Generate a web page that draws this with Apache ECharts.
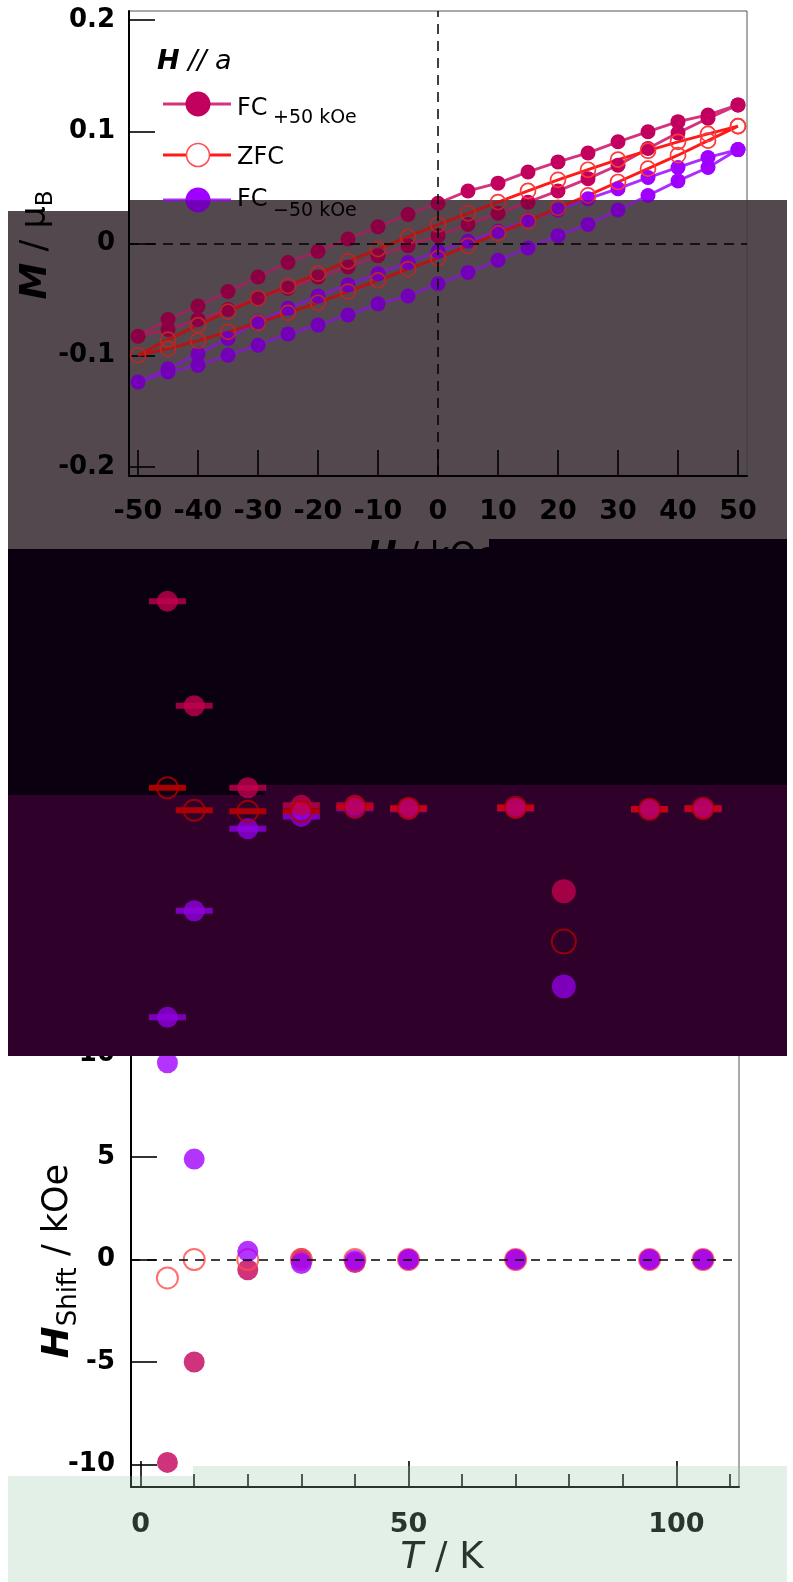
<!DOCTYPE html>
<html><head><meta charset="utf-8">
<script src="https://cdn.jsdelivr.net/npm/echarts@6/dist/echarts.min.js"></script>
<style>html,body{margin:0;padding:0;background:#fff;}#c{width:793px;height:1582px;}</style>
</head><body><div id="c"></div>
<script>
// ---------- Top panel: M (muB) vs H (kOe), three hysteresis loops ----------
const fieldKOe = [-50,-45,-40,-35,-30,-25,-20,-15,-10,-5,0,5,10,15,20,25,30,35,40,45,50];
const fcPlusUpper  = [-0.083,-0.068,-0.056,-0.043,-0.030,-0.017,-0.007,0.004,0.015,0.026,0.036,0.047,0.054,0.064,0.073,0.081,0.091,0.100,0.109,0.115,0.124];
const fcPlusLower  = [-0.083,-0.077,-0.068,-0.059,-0.049,-0.040,-0.030,-0.021,-0.011,-0.002,0.007,0.017,0.027,0.037,0.047,0.058,0.070,0.085,0.099,0.112,0.124];
const zfcUpper     = [-0.100,-0.086,-0.073,-0.061,-0.049,-0.038,-0.027,-0.016,-0.005,0.006,0.017,0.027,0.037,0.047,0.057,0.066,0.075,0.083,0.091,0.098,0.105];
const zfcLower     = [-0.100,-0.094,-0.087,-0.079,-0.071,-0.062,-0.053,-0.043,-0.033,-0.023,-0.013,-0.002,0.009,0.020,0.032,0.043,0.055,0.067,0.079,0.092,0.105];
const fcMinusUpper = [-0.124,-0.112,-0.099,-0.085,-0.070,-0.058,-0.047,-0.037,-0.027,-0.017,-0.007,0.002,0.011,0.021,0.030,0.040,0.049,0.059,0.068,0.077,0.084];
const fcMinusLower = [-0.124,-0.115,-0.109,-0.100,-0.091,-0.081,-0.073,-0.064,-0.054,-0.047,-0.036,-0.026,-0.015,-0.004,0.007,0.017,0.030,0.043,0.056,0.068,0.084];
const topXTicks = [-50,-40,-30,-20,-10,0,10,20,30,40,50];
const topYTicks = [-0.2,-0.1,0,0.1,0.2];

// ---------- Middle panel (mostly hidden) ----------
const tempK = [5,10,20,30,40,50,70,95,105];
const midFCplus  = [10.1,5.0,1.0,0.15,0.15,0.0,0.0,-0.05,-0.05];
const midZFC     = [1.0,-0.1,-0.15,-0.15,0.05,0.0,0.05,-0.05,0.0];
const midFCminus = [-10.2,-5.0,-1.0,-0.4,0.0,-0.05,0.0,-0.05,0.0];
const midExtraT = [79];
const midExtraFCplus = [-4.05];
const midExtraZFC = [-6.5];
const midExtraFCminus = [-8.7];

// ---------- Bottom panel: H_shift (kOe) vs T (K) ----------
const shiftFCplus  = [-9.9,-5.0,-0.5,0.05,-0.15,0,0,0,0];
const shiftZFC     = [-0.9,0,0,0,0,0,0,0,0];
const shiftFCminus = [9.6,4.9,0.4,-0.2,-0.05,0,0,0,0];
const botXTicks = [0,50,100];
const botXMinor = [10,20,30,40,60,70,80,90,110];
const botYTicks = [-10,-5,0,5,10];

const FONT = 'DejaVu Sans';
const C_PLUS = '#c2005e', C_PLUS_LINE = '#d6337f';
const C_ZFC = '#ff3838', C_ZFC_LINE = '#ff1a1a';
const C_MINUS = '#a000ff', C_MINUS_LINE = '#ad2cff';

function loopData(up, low) {
  const d = [];
  for (let i = fieldKOe.length - 1; i >= 0; i--) d.push([fieldKOe[i], up[i]]);
  for (let i = 1; i < fieldKOe.length; i++) d.push([fieldKOe[i], low[i]]);
  return d;
}
function pairs(xs, ys) { return xs.map((x, i) => [x, ys[i]]); }

function valueAxis(o) {
  return Object.assign({
    type: 'value', splitLine: {show: false},
    axisLine: {show: true, onZero: false, lineStyle: {color: '#000', width: 2}},
    axisTick: {show: true, inside: true, length: 26, lineStyle: {color: '#000', width: 1.6}, customValues: o.ticks},
    axisLabel: {show: true, customValues: o.ticks, color: '#000', fontFamily: FONT, fontWeight: 'bold', fontSize: o.size || 26, margin: o.margin}
  }, o.extra);
}

const lineCommon = {type: 'line', xAxisIndex: 0, yAxisIndex: 0, symbol: 'circle', symbolSize: 15, z: 2, emphasis: {disabled: true}, silent: true};

const series = [
  Object.assign({}, lineCommon, {
    name: 'FC+50', data: loopData(fcPlusUpper, fcPlusLower),
    lineStyle: {color: C_PLUS_LINE, width: 2.9}, itemStyle: {color: C_PLUS},
    markLine: {silent: true, symbol: 'none', label: {show: false}, animation: false,
      lineStyle: {color: '#000', width: 1.5, type: [10, 7]}, data: [{yAxis: 0}, {xAxis: 0}]}
  }),
  Object.assign({}, lineCommon, {
    name: 'FC-50', data: loopData(fcMinusUpper, fcMinusLower),
    lineStyle: {color: C_MINUS_LINE, width: 2.9}, itemStyle: {color: C_MINUS}
  }),
  Object.assign({}, lineCommon, {
    name: 'ZFC', data: loopData(zfcUpper, zfcLower),
    lineStyle: {color: C_ZFC_LINE, width: 2.9},
    itemStyle: {color: 'rgba(255,255,255,0)', borderColor: C_ZFC, borderWidth: 1.7}
  }),
  // bottom panel
  {type: 'scatter', xAxisIndex: 2, yAxisIndex: 2, data: pairs(tempK, shiftFCplus), symbolSize: 21, z: 2, silent: true,
    itemStyle: {color: '#c3005a'},
    markLine: {silent: true, symbol: 'none', label: {show: false}, animation: false,
      lineStyle: {color: '#000', width: 1.5, type: [9, 7]}, data: [{yAxis: 0}]}},
  {type: 'scatter', xAxisIndex: 2, yAxisIndex: 2, data: pairs(tempK, shiftZFC), symbolSize: 21, z: 2, silent: true,
    itemStyle: {color: 'rgba(255,255,255,0)', borderColor: '#ff4b4b', borderWidth: 2}},
  {type: 'scatter', xAxisIndex: 2, yAxisIndex: 2, data: pairs(tempK, shiftFCminus), symbolSize: 21, z: 2, silent: true,
    itemStyle: {color: '#a000ff'}},
  // middle panel: bars then circles
  {type: 'scatter', xAxisIndex: 1, yAxisIndex: 1, data: pairs(tempK, midFCminus), symbol: 'rect', symbolSize: [37, 6], z: 5, silent: true, itemStyle: {color: '#9000e0'}},
  {type: 'scatter', xAxisIndex: 1, yAxisIndex: 1, data: pairs(tempK, midFCplus), symbol: 'rect', symbolSize: [37, 6], z: 5, silent: true, itemStyle: {color: '#c0004e'}},
  {type: 'scatter', xAxisIndex: 1, yAxisIndex: 1, data: pairs(tempK, midZFC), symbol: 'rect', symbolSize: [37, 6], z: 5, silent: true, itemStyle: {color: '#cc0000'}},
  {type: 'scatter', xAxisIndex: 1, yAxisIndex: 1, data: pairs(tempK, midFCminus), symbolSize: 21, z: 6, silent: true, itemStyle: {color: '#9000e0'}},
  {type: 'scatter', xAxisIndex: 1, yAxisIndex: 1, data: pairs(tempK, midFCplus), symbolSize: 21, z: 6, silent: true, itemStyle: {color: '#c0004e'}},
  {type: 'scatter', xAxisIndex: 1, yAxisIndex: 1, data: pairs(tempK, midZFC), symbolSize: 21, z: 6, silent: true,
    itemStyle: {color: 'rgba(0,0,0,0)', borderColor: '#b00000', borderWidth: 2}},
  {type: 'scatter', xAxisIndex: 1, yAxisIndex: 1, data: pairs(midExtraT, midExtraFCplus), symbolSize: 24, z: 6, silent: true, itemStyle: {color: '#c0004e'}},
  {type: 'scatter', xAxisIndex: 1, yAxisIndex: 1, data: pairs(midExtraT, midExtraZFC), symbolSize: 24, z: 6, silent: true,
    itemStyle: {color: 'rgba(0,0,0,0)', borderColor: '#b00000', borderWidth: 2}},
  {type: 'scatter', xAxisIndex: 1, yAxisIndex: 1, data: pairs(midExtraT, midExtraFCminus), symbolSize: 24, z: 6, silent: true, itemStyle: {color: '#9000e0'}}
];

function rect(x, y, w, h, fill, z) {
  return {type: 'rect', silent: true, z: z, shape: {x: x, y: y, width: w, height: h}, style: {fill: fill}};
}
function txt(x, y, text, font) {
  return {type: 'text', silent: true, z: 1, x: x, y: y,
    style: {text: text, font: font, fill: '#000', align: 'left', verticalAlign: 'middle', textAlign: 'left', textVerticalAlign: 'middle'}};
}
const GRAY_UNDER = 'rgb(114,100,108)';
const GRAY_OVER = 'rgba(0,0,0,0.28)';
const BLACK = '#0a0010';
const PURP = '#2e002a';
const GREEN = 'rgba(150,200,165,0.27)';

const graphics = [
  // gray patch: opaque underlay below everything, plus darkening veil on top
  rect(8, 211, 121, 338, GRAY_UNDER, -1),
  rect(129, 200, 360, 349, GRAY_UNDER, -1),
  rect(489, 200, 298, 339, GRAY_UNDER, -1),
  rect(8, 211, 121, 338, GRAY_OVER, 10),
  rect(129, 200, 360, 349, GRAY_OVER, 10),
  rect(489, 200, 298, 339, GRAY_OVER, 10),
  // legend
  {type: 'text', silent: true, z: 1, x: 157, y: 62,
    style: {text: '{h|H}{n| // a}', align: 'left', verticalAlign: 'middle',
      rich: {h: {fontFamily: FONT, fontSize: 27, fontWeight: 'bold', fontStyle: 'italic', fill: '#000'},
             n: {fontFamily: FONT, fontSize: 27, fontStyle: 'italic', fill: '#000'}}}},
  {type: 'line', silent: true, z: 1, shape: {x1: 163, y1: 104, x2: 231, y2: 104}, style: {stroke: C_PLUS_LINE, lineWidth: 3}},
  {type: 'circle', silent: true, z: 1, shape: {cx: 198, cy: 104, r: 12.5}, style: {fill: C_PLUS}},
  txt(237, 109, 'FC', '24px "DejaVu Sans"'),
  txt(273, 118, '+50 kOe', '19px "DejaVu Sans"'),
  {type: 'line', silent: true, z: 1, shape: {x1: 163, y1: 155, x2: 231, y2: 155}, style: {stroke: C_ZFC_LINE, lineWidth: 3}},
  {type: 'circle', silent: true, z: 1, shape: {cx: 198, cy: 155, r: 11.5}, style: {fill: '#fff', stroke: '#ff5050', lineWidth: 1.6}},
  txt(237, 158, 'ZFC', '24px "DejaVu Sans"'),
  {type: 'line', silent: true, z: 1, shape: {x1: 163, y1: 200, x2: 231, y2: 200}, style: {stroke: C_MINUS_LINE, lineWidth: 3}},
  {type: 'circle', silent: true, z: 1, shape: {cx: 198, cy: 200, r: 12.5}, style: {fill: C_MINUS}},
  txt(237, 200, 'FC', '24px "DejaVu Sans"'),
  txt(273, 211, '\u221250 kOe', '19px "DejaVu Sans"'),
  // top axis titles
  {type: 'text', silent: true, z: 1, x: 36, y: 245, rotation: Math.PI / 2,
    style: {text: '{m|M}{n| / \u03bc}{s|B}', align: 'center', verticalAlign: 'middle',
      rich: {m: {fontFamily: FONT, fontSize: 37, fontWeight: 'bold', fontStyle: 'italic', fill: '#000', lineHeight: 44},
             n: {fontFamily: FONT, fontSize: 35, fill: '#000', lineHeight: 44},
             s: {fontFamily: FONT, fontSize: 23, fill: '#000', lineHeight: 22, verticalAlign: 'bottom'}}}},
  {type: 'text', silent: true, z: 1, x: 432, y: 557,
    style: {text: '{h|H}{n| / kOe}', align: 'center', verticalAlign: 'middle',
      rich: {h: {fontFamily: FONT, fontSize: 36, fontWeight: 'bold', fontStyle: 'italic', fill: '#000'},
             n: {fontFamily: FONT, fontSize: 34, fill: '#000'}}}},
  // bottom axis titles
  {type: 'text', silent: true, z: 1, x: 58, y: 1261, rotation: Math.PI / 2,
    style: {text: '{h|H}{s|Shift}{n| / kOe}', align: 'center', verticalAlign: 'middle',
      rich: {h: {fontFamily: FONT, fontSize: 38, fontWeight: 'bold', fontStyle: 'italic', fill: '#000', lineHeight: 48},
             n: {fontFamily: FONT, fontSize: 35, fill: '#000', lineHeight: 48},
             s: {fontFamily: FONT, fontSize: 26, fill: '#000', lineHeight: 26, verticalAlign: 'bottom'}}}},
  {type: 'text', silent: true, z: 1, x: 442, y: 1558,
    style: {text: '{i|T}{n| / K}', align: 'center', verticalAlign: 'middle',
      rich: {i: {fontFamily: FONT, fontSize: 37, fontStyle: 'italic', fill: '#000'},
             n: {fontFamily: FONT, fontSize: 37, fill: '#000'}}}},
  // dark patches over the middle panel
  rect(8, 549, 257, 246, BLACK, 3),
  rect(265, 549, 224, 236, BLACK, 3),
  rect(489, 539, 298, 246, BLACK, 3),
  rect(8, 795, 257, 261, PURP, 3),
  rect(265, 785, 522, 271, PURP, 3),
  // light green patch at the bottom
  rect(8, 1476, 185, 106, GREEN, 10),
  rect(193, 1466, 594, 116, GREEN, 10)
];

const option = {
  animation: false,
  backgroundColor: '#fff',
  grid: [
    {left: 129, top: 11, width: 618, height: 465, show: true, borderColor: '#555', borderWidth: 1, backgroundColor: 'transparent'},
    {left: 131, top: 552, width: 608, height: 492, show: false},
    {left: 131, top: 1032, width: 608, height: 455, show: true, borderColor: '#555', borderWidth: 1, backgroundColor: 'transparent'}
  ],
  xAxis: [
    valueAxis({ticks: topXTicks, margin: 22, size: 27, extra: {gridIndex: 0, min: -51.5, max: 51.5, position: 'bottom'}}),
    {gridIndex: 1, type: 'value', min: -1.8, max: 111.7, show: false},
    valueAxis({ticks: botXTicks, margin: 24, size: 27, extra: {gridIndex: 2, min: -1.8, max: 111.7, position: 'bottom'}}),
    {gridIndex: 2, type: 'value', min: -1.8, max: 111.7, position: 'bottom',
      axisLine: {show: false, onZero: false}, splitLine: {show: false}, axisLabel: {show: false},
      axisTick: {show: true, inside: true, length: 13, customValues: botXMinor, lineStyle: {color: '#000', width: 1.6}}}
  ],
  yAxis: [
    valueAxis({ticks: topYTicks, margin: 14, size: 26, extra: {gridIndex: 0, min: -0.208, max: 0.208, position: 'left'}}),
    {gridIndex: 1, type: 'value', min: -11.5, max: 12.5, show: false},
    valueAxis({ticks: botYTicks, margin: 16, size: 26, extra: {gridIndex: 2, min: -11.1, max: 11.1, position: 'left'}})
  ],
  series: series,
  graphic: {elements: graphics}
};

const chart = echarts.init(document.getElementById('c'), null, {renderer: 'canvas', width: 793, height: 1582});
chart.setOption(option);
</script>
</body></html>
